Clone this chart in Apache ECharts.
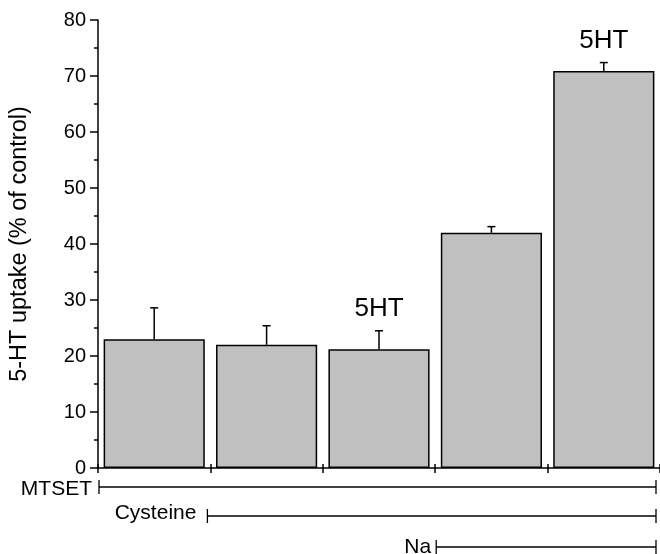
<!DOCTYPE html>
<html>
<head>
<meta charset="utf-8">
<script src="https://cdn.jsdelivr.net/npm/echarts@6/dist/echarts.min.js"></script>
<style>html,body{margin:0;padding:0;background:#fff;}#chart{width:660px;height:554px;}</style>
</head>
<body>
<div id="chart"></div>
<script>
var categories = ['MTSET', 'MTSET+Cys', 'MTSET+Cys+5HT', 'MTSET+Cys+Na', 'MTSET+Cys+Na+5HT'];
var uptake = [23.0, 22.0, 21.2, 42.0, 70.9];
var errors = [5.6, 3.4, 3.3, 1.1, 1.5];
var barLabels = ['', '', '5HT', '', '5HT'];
var yTicks = [0, 10, 20, 30, 40, 50, 60, 70, 80];
var treatments = ['MTSET', 'Cysteine', 'Na'];
var treatmentStart = [0, 1, 3]; // category index where each treatment begins

var FONT = "'Liberation Sans', Arial, sans-serif";
var chart = echarts.init(document.getElementById('chart'));

var errData = uptake.map(function (v, i) { return [i, v, errors[i], barLabels[i]]; });

chart.setOption({
  animation: false,
  backgroundColor: '#fff',
  grid: { left: 96, right: 0, top: 20, bottom: 86 },
  xAxis: [{
    type: 'category',
    data: categories,
    axisLine: { lineStyle: { color: '#000', width: 1.5 } },
    axisTick: { show: true, interval: 0, length: 5, lineStyle: { color: '#000', width: 1.5 } },
    axisLabel: { show: false },
    splitLine: { show: false }
  }, {
    type: 'category',
    data: categories,
    position: 'bottom',
    axisLine: { show: false },
    axisTick: { show: true, inside: true, interval: 0, length: 4, lineStyle: { color: '#000', width: 1.5 } },
    axisLabel: { show: false },
    splitLine: { show: false }
  }],
  yAxis: {
    type: 'value',
    min: yTicks[0],
    max: yTicks[yTicks.length - 1],
    interval: 10,
    name: '5-HT uptake (% of control)',
    nameLocation: 'middle',
    nameGap: 66,
    nameTextStyle: { fontFamily: FONT, fontSize: 23.5, color: '#000' },
    axisLine: { show: true, lineStyle: { color: '#000', width: 1.5 } },
    axisTick: { show: true, length: 8, lineStyle: { color: '#000', width: 1.5 } },
    minorTick: { show: true, splitNumber: 2, length: 4, lineStyle: { color: '#000', width: 1.5 } },
    axisLabel: { fontFamily: FONT, fontSize: 20, color: '#000', margin: 12 },
    splitLine: { show: false }
  },
  series: [
    {
      type: 'bar',
      data: uptake,
      barCategoryGap: '10%',
      itemStyle: { color: '#c0c0c0', borderColor: '#000', borderWidth: 1.5 },
      z: 2
    },
    {
      type: 'custom',
      data: errData,
      z: 3,
      renderItem: function (params, api) {
        var i = api.value(0);
        var v = api.value(1);
        var e = api.value(2);
        var lbl = barLabels[i];
        var p0 = api.coord([i, v]);
        var p1 = api.coord([i, v + e]);
        var cap = 4;
        var children = [
          { type: 'line', shape: { x1: p0[0], y1: p0[1], x2: p1[0], y2: p1[1] }, style: { stroke: '#000', lineWidth: 1.5 } },
          { type: 'line', shape: { x1: p1[0] - cap, y1: p1[1], x2: p1[0] + cap, y2: p1[1] }, style: { stroke: '#000', lineWidth: 1.5 } }
        ];
        if (lbl) {
          children.push({
            type: 'text',
            style: { text: lbl, x: p1[0], y: p1[1] - 22, align: 'center', verticalAlign: 'middle', fontFamily: FONT, fontSize: 26, fill: '#000' }
          });
        }
        return { type: 'group', children: children };
      }
    }
  ]
});

// Treatment bracket lines under the axis, positioned from the category scale
function drawBrackets() {
  var c0 = chart.convertToPixel({ xAxisIndex: 0 }, 0);
  var c1 = chart.convertToPixel({ xAxisIndex: 0 }, 1);
  var band = c1 - c0;
  var y0 = chart.convertToPixel({ yAxisIndex: 0 }, 0);
  var endX = 656;
  var rowOffsets = [19, 48, 79];
  var startAdjust = [1, -3, 1];
  var labelGap = [7, 11, 5];
  var textDy = [2, -3, 0];
  var els = [];
  treatments.forEach(function (name, k) {
    var sx = c0 - band / 2 + treatmentStart[k] * band + startAdjust[k];
    var y = y0 + rowOffsets[k];
    els.push({ type: 'line', shape: { x1: sx, y1: y, x2: endX, y2: y }, style: { stroke: '#000', lineWidth: 1.3 } });
    els.push({ type: 'line', shape: { x1: sx, y1: y - 7, x2: sx, y2: y + 7 }, style: { stroke: '#000', lineWidth: 1.3 } });
    els.push({ type: 'line', shape: { x1: endX, y1: y - 7, x2: endX, y2: y + 7 }, style: { stroke: '#000', lineWidth: 1.3 } });
    els.push({ type: 'text', style: { text: name, x: sx - labelGap[k], y: y + textDy[k], align: 'right', verticalAlign: 'middle', fontFamily: FONT, fontSize: 21, fill: '#000' } });
  });
  chart.setOption({ graphic: els });
}
drawBrackets();
</script>
</body>
</html>
